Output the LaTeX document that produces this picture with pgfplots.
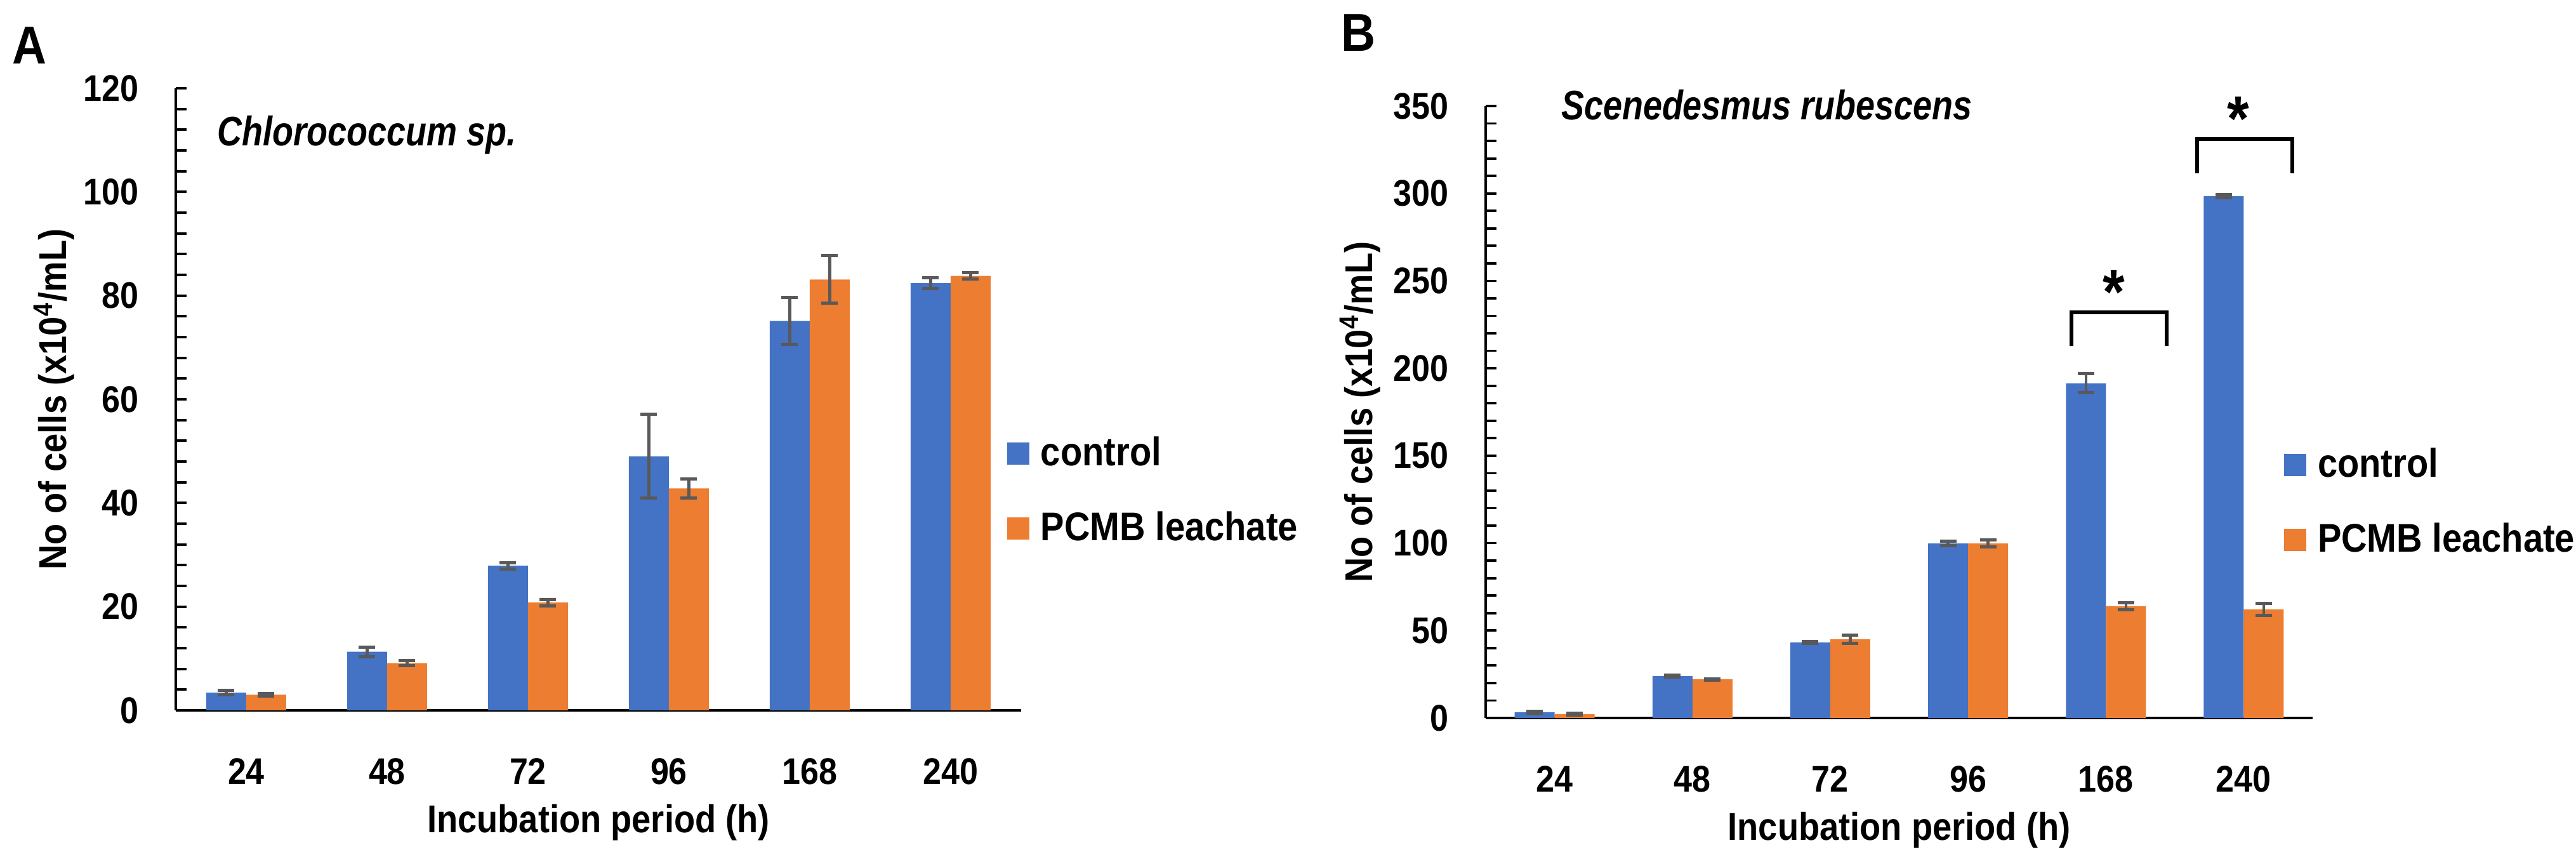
\documentclass[border=0pt]{standalone}
\usepackage{fontspec}
\setmainfont{Liberation Sans}[FakeStretch=0.89]
\newfontfamily\spfont{Liberation Sans}[FakeStretch=0.83]
\usepackage{pgfplots}
\pgfplotsset{compat=1.18}
\usepackage{pgfplotstable}

\definecolor{cblue}{HTML}{4472C4}
\definecolor{corange}{HTML}{ED7D31}
\definecolor{errgray}{HTML}{595959}

% x = category index (24,48,72,96,168,240 h); c/ce = control, p/pe = PCMB leachate
\pgfplotstableread{
x c ce p pe
0 3.4 0.4 3.0 0.3
1 11.3 0.9 9.1 0.5
2 27.9 0.6 20.8 0.6
3 49.0 8.1 42.8 1.8
4 75.1 4.5 83.1 4.6
5 82.4 1.0 83.8 0.6
}\chloro

\pgfplotstableread{
x c ce p pe
0 3.3 0.5 2.2 0.4
1 24.0 0.6 22.1 0.4
2 43.2 0.5 45.0 2.2
3 99.8 1.4 99.8 2.0
4 191.4 5.4 63.9 2.0
5 298.5 1.0 62.1 3.6
}\scened

\pgfplotsset{
  panel/.style={
    scale only axis, clip=false,
    ybar=0pt, bar width=12.6pt,
    xmin=-0.5, xmax=5.5, ymin=0,
    xtick={0,...,5}, xticklabels={24,48,72,96,168,240},
    axis x line*=bottom, axis y line*=left,
    axis line style={line width=0.75pt, -},
    major x tick style={draw=none},
    ytick align=inside,
    major tick length=3.4pt, minor tick length=3.4pt,
    y tick style={line width=0.75pt, black},
    /pgf/number format/assume math mode=true,
    tick label style={font=\fontsize{11.7}{13}\selectfont\bfseries, inner sep=0pt},
    xticklabel style={anchor=north, yshift=-11.5pt},
    yticklabel style={anchor=east, xshift=-11.6pt},
    xlabel={Incubation period (h)},
    ylabel={No of cells (x10\textsuperscript{4}/mL)},
    xlabel style={at={(axis description cs:0.5,0)}, anchor=north, yshift=-29.4pt,
      inner sep=0pt, font=\fontsize{12.2}{14}\selectfont\bfseries},
    legend cell align=left,
    legend image code/.code={\fill[##1] (0pt,-3.5pt) rectangle (7pt,3.5pt);},
    legend style={draw=none, fill=none, inner sep=0pt, outer sep=0pt, row sep=13pt,
      font=\fontsize{12.6}{14}\selectfont\bfseries, nodes={inner sep=0pt},
      /tikz/every odd column/.append style={column sep=3.6pt}},
    error bars/error bar style={line width=0.85pt, color=errgray},
    error bars/error mark options={rotate=90, mark size=2.6pt, line width=1pt, color=errgray},
  },
  ctrl/.style={fill=cblue, draw=none},
  pcmb/.style={fill=corange, draw=none},
}

\begin{document}
\begin{tikzpicture}
\path[use as bounding box] (0,0) rectangle (811.8pt,270pt);

\begin{axis}[panel,
  at={(55.4pt,46.2pt)}, anchor=south west,
  width=266.4pt, height=196pt,
  ymax=120, ytick distance=20, minor y tick num=4,
  every axis y label/.style={at={(axis description cs:-0.1441,0.5)}, rotate=90,
    anchor=center, inner sep=0pt, font=\fontsize{12.2}{14}\selectfont\bfseries},
  legend style={at={(axis description cs:0.9835,0.3526)}, anchor=west},
]
\addplot[ctrl, error bars/.cd, y dir=both, y explicit] table[x=x, y=c, y error=ce] {\chloro};
\addplot[pcmb, error bars/.cd, y dir=both, y explicit] table[x=x, y=p, y error=pe] {\chloro};
\legend{control, PCMB leachate}
\node[anchor=north west, inner sep=0pt, font=\spfont\fontsize{13}{15}\selectfont\bfseries\itshape]
  at (axis description cs:0.0488,0.9566) {Chlorococcum sp.};
\end{axis}

\begin{axis}[panel,
  at={(468.2pt,43.8pt)}, anchor=south west,
  width=260.6pt, height=192.8pt,
  ymax=350, ytick distance=50, minor y tick num=4,
  every axis y label/.style={at={(axis description cs:-0.152,0.5)}, rotate=90,
    anchor=center, inner sep=0pt, font=\fontsize{12.2}{14}\selectfont\bfseries},
  legend style={at={(axis description cs:0.9655,0.3522)}, anchor=west},
]
\addplot[ctrl, error bars/.cd, y dir=both, y explicit] table[x=x, y=c, y error=ce] {\scened};
\addplot[pcmb, error bars/.cd, y dir=both, y explicit] table[x=x, y=p, y error=pe] {\scened};
\legend{control, PCMB leachate}
\node[anchor=north west, inner sep=0pt, font=\spfont\fontsize{13}{15}\selectfont\bfseries\itshape]
  at (axis description cs:0.0906,1.028) {Scenedesmus rubescens};
% significance brackets
\draw[line width=1.1pt, line join=miter] (axis cs:3.750,212.8) |- (axis cs:4.441,232.0) -- (axis cs:4.441,212.8);
\draw[line width=1.1pt, line join=miter] (axis cs:4.662,311.5) |- (axis cs:5.353,331.2) -- (axis cs:5.353,311.5);
\node[anchor=north, inner sep=0pt, font=\fontsize{20}{22}\selectfont\bfseries] at (axis cs:4.059,256.4) {*};
\node[anchor=north, inner sep=0pt, font=\fontsize{20}{22}\selectfont\bfseries] at (axis cs:4.961,355.5) {*};
\end{axis}

\node[anchor=north west, inner sep=0pt, font=\fontsize{16.8}{18}\selectfont\bfseries] at (3.6pt,261.6pt) {A};
\node[anchor=north west, inner sep=0pt, font=\fontsize{16.8}{18}\selectfont\bfseries] at (422.4pt,265.6pt) {B};
\end{tikzpicture}
\end{document}
